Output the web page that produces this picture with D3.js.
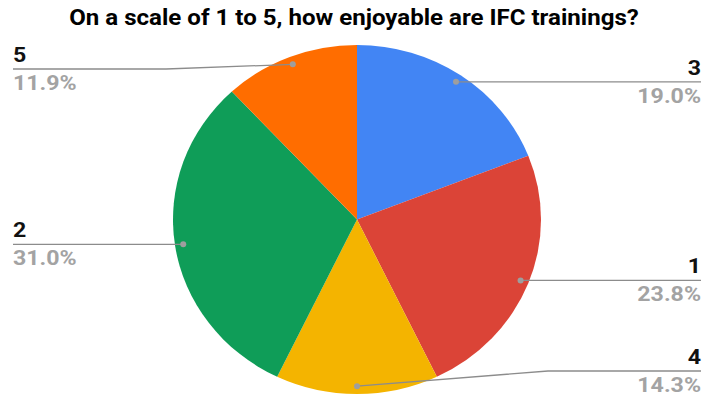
<!DOCTYPE html>
<html>
<head>
<meta charset="utf-8">
<script src="https://cdn.jsdelivr.net/npm/d3@7"></script>
<style>
  body { margin: 0; background: #fff; }
  text { font-family: Roboto, "Noto Sans", sans-serif; font-weight: bold; }
</style>
</head>
<body>
<div id="chart"></div>
<script>
const title = "On a scale of 1 to 5, how enjoyable are IFC trainings?";
const categories = ["3", "1", "4", "2", "5"];
const values = [8, 10, 6, 13, 5];
const colors = ["#4285F4", "#DB4437", "#F4B400", "#0F9D58", "#FF6D00"];

const width = 707, height = 399;
const cx = 357, cy = 219.5, rx = 184, ry = 174.5;
const textStretch = 1.13, titleStretch = 1.07;
const labelTop = 69, labelBottom = 371;

const svg = d3.select("#chart").append("svg")
    .attr("width", width)
    .attr("height", height);

svg.append("text")
    .attr("transform", "translate(" + 354 + ",25) scale(" + titleStretch + ",1)")
    .attr("text-anchor", "middle")
    .attr("font-size", 22.5)
    .attr("fill", "#000")
    .text(title);

const total = d3.sum(values);
const pie = d3.pie().sort(null).value(d => d)(values);
const arc = d3.arc().innerRadius(0).outerRadius(ry);

const g = svg.append("g")
    .attr("transform", "translate(" + cx + "," + cy + ") scale(" + (rx / ry) + ",1)");

g.selectAll("path")
    .data(pie)
    .enter()
    .append("path")
    .attr("d", arc)
    .attr("fill", (d, i) => colors[i]);

// leader lines + labels
pie.forEach(function(d, i){
    const a = (d.startAngle + d.endAngle) / 2;
    const dx = cx + rx * 0.955 * Math.sin(a);
    const dy = cy - ry * 0.955 * Math.cos(a);
    const right = Math.sin(a) >= 0;
    const ly = Math.max(labelTop, Math.min(labelBottom, dy));
    const bendX = right ? cx + rx + 7 : cx - rx - 7;
    const endX = right ? 701 : 13;
    const pts = ly === dy ? [[dx, dy], [endX, ly]] : [[dx, dy], [bendX, ly], [endX, ly]];

    svg.append("path")
        .attr("d", d3.line()(pts))
        .attr("fill", "none")
        .attr("stroke", "#8c8c8c")
        .attr("stroke-width", 1.3);
    svg.append("circle")
        .attr("cx", dx)
        .attr("cy", dy)
        .attr("r", 3)
        .attr("fill", "#9e9e9e");

    const anchor = right ? "end" : "start";
    svg.append("text")
        .attr("transform", "translate(" + endX + "," + (ly - 7) + ") scale(" + textStretch + ",1)")
        .attr("text-anchor", anchor)
        .attr("font-size", 20.5)
        .attr("fill", "#111")
        .text(categories[i]);
    svg.append("text")
        .attr("transform", "translate(" + endX + "," + (ly + 21) + ") scale(" + textStretch + ",1)")
        .attr("text-anchor", anchor)
        .attr("font-size", 20.5)
        .attr("fill", "#a3a3a3")
        .text((values[i] / total * 100).toFixed(1) + "%");
});
</script>
</body>
</html>
